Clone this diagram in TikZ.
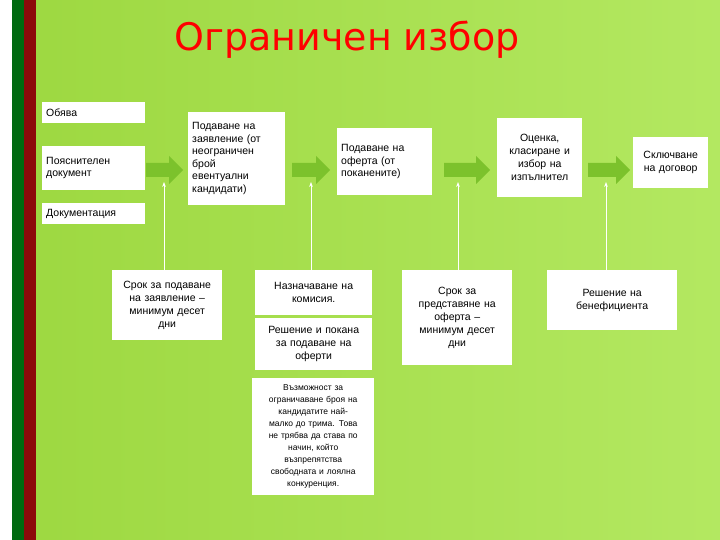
\documentclass[tikz,border=0pt]{standalone}
\usepackage{fontspec}
\setmainfont{Liberation Sans}
\newfontfamily\titlefont{DejaVu Sans}
\usetikzlibrary{shapes.arrows,arrows.meta}
\definecolor{lime}{HTML}{A6E445}
\definecolor{dgreen}{HTML}{006A10}
\definecolor{dred}{HTML}{8C0A0A}
\definecolor{arr}{HTML}{7CC22C}
\tikzset{
 wbox/.style={fill=white,inner sep=4pt,font=\fontsize{10.5}{12.5}\selectfont,align=left,anchor=north west},
 cbox/.style={fill=white,inner sep=3pt,font=\fontsize{10.5}{13}\selectfont,align=center,anchor=north west},
 bigarrow/.style={fill=arr,draw=none},
 wline/.style={draw=white,line width=1pt,-{Stealth[length=5pt]}}
}
\begin{document}
\begin{tikzpicture}[x=1pt,y=-1pt]
\useasboundingbox (0,0) rectangle (720,540);
\fill[white] (0,0) rectangle (720,540);
\shade[left color=lime!95!black,right color=lime!85!white] (36,0) rectangle (720,540);
\fill[dgreen] (12,0) rectangle (24,540);
\fill[dred] (24,0) rectangle (36,540);
\node[text=red,font=\titlefont\fontsize{38}{42}\selectfont] (title) at (347,40) {Ограничен избор};
\node[wbox,minimum width=103pt,minimum height=21pt,text width=95pt] (obyava) at (42,102) {Обява};
\node[wbox,minimum width=103pt,minimum height=44pt,text width=95pt] (poyas) at (42,146) {Пояснителен\\документ};
\node[wbox,minimum width=103pt,minimum height=21pt,text width=95pt] (dokum) at (42,203) {Документация};
\node[wbox,minimum width=97pt,minimum height=93pt,text width=89pt] (podzayav) at (188,112) {Подаване на\\заявление (от\\неограничен\\брой\\евентуални\\кандидати)};
\node[wbox,minimum width=95pt,minimum height=67pt,text width=87pt] (podofer) at (337,128) {Подаване на\\оферта (от\\поканените)};
\node[cbox,minimum width=85pt,minimum height=79pt,text width=79pt] (ocenka) at (497,118) {Оценка,\\класиране и\\избор на\\изпълнител};
\node[cbox,minimum width=75pt,minimum height=51pt,text width=69pt] (sklyuch) at (633,137) {Сключване\\на договор};
\coordinate (a1) at (164,170); \coordinate (a2) at (311,170);
\coordinate (a3) at (458,170); \coordinate (a4) at (606,170);
\foreach \c/\l/\r in {a1/146/183, a2/292/330, a3/444/490, a4/588/630}{
 \fill[bigarrow] (\l,163) -- (\r-14,163) -- (\r-14,156) -- (\r,170) -- (\r-14,184) -- (\r-14,177) -- (\l,177) -- cycle;
}
\node[cbox,minimum width=110pt,minimum height=70pt,text width=104pt] (srok1) at (112,270) {Срок за подаване\\на заявление --\\минимум десет\\дни};
\node[cbox,minimum width=117pt,minimum height=45pt,text width=111pt] (naznach) at (255,270) {Назначаване на\\комисия.};
\node[cbox,minimum width=117pt,minimum height=52pt,text width=111pt] (reshenie) at (255,318) {Решение и покана\\за подаване на\\оферти};
\node[cbox,font=\fontsize{8.5}{12}\selectfont,minimum width=122pt,minimum height=117pt,text width=116pt] (vazm) at (252,378) {Възможност за\\ограничаване броя на\\кандидатите най-\\малко до трима. Това\\не трябва да става по\\начин, който\\възпрепятства\\свободната и лоялна\\конкуренция.};
\node[cbox,minimum width=110pt,minimum height=95pt,text width=104pt] (srok2) at (402,270) {Срок за\\представяне на\\оферта --\\минимум десет\\дни};
\node[cbox,minimum width=130pt,minimum height=60pt,text width=124pt] (benef) at (547,270) {Решение на\\бенефициента};
\draw[wline] (srok1.north -| a1) -- ([yshift=-5pt]a1 |- 0,177);
\draw[wline] (naznach.north -| a2) -- ([yshift=-5pt]a2 |- 0,177);
\draw[wline] (srok2.north -| a3) -- ([yshift=-5pt]a3 |- 0,177);
\draw[wline] (benef.north -| a4) -- ([yshift=-5pt]a4 |- 0,177);
\end{tikzpicture}
\end{document}
